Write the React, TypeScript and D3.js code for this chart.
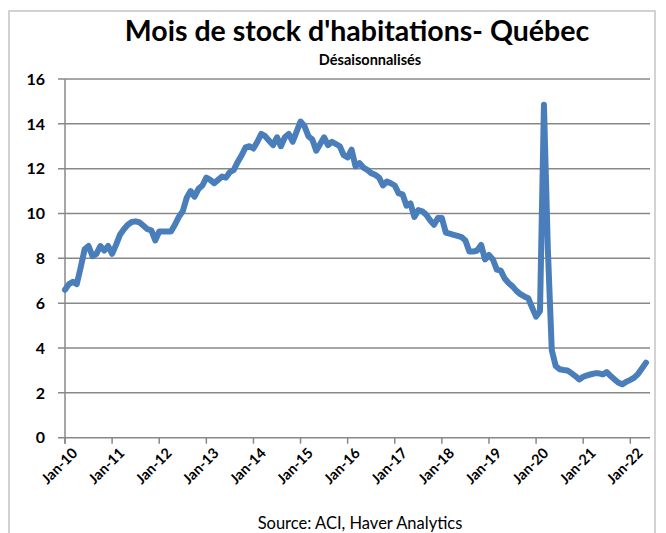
import React from 'react';
import * as d3 from 'd3';

// Mois de stock, Québec, désaisonnalisés (mensuel, jan. 2010 - mai 2022)
const y2010 = [6.6, 6.85, 6.95, 6.85, 7.6, 8.4, 8.55, 8.1, 8.2, 8.55, 8.35, 8.55];
const y2011 = [8.2, 8.6, 9.05, 9.3, 9.5, 9.62, 9.65, 9.6, 9.45, 9.3, 9.25, 8.8];
const y2012 = [9.2, 9.2, 9.2, 9.2, 9.5, 9.85, 10.1, 10.7, 11.0, 10.75, 11.1, 11.25];
const y2013 = [11.6, 11.5, 11.35, 11.5, 11.65, 11.6, 11.85, 11.95, 12.3, 12.6, 12.95, 13.0];
const y2014 = [12.9, 13.2, 13.55, 13.45, 13.25, 13.05, 13.4, 13.0, 13.4, 13.55, 13.2, 13.65];
const y2015 = [14.1, 13.9, 13.45, 13.3, 12.8, 13.1, 13.4, 13.05, 13.2, 13.1, 13.0, 12.6];
const y2016 = [12.5, 12.85, 12.1, 12.25, 12.05, 11.95, 11.8, 11.73, 11.6, 11.25, 11.43, 11.35];
const y2017 = [11.25, 10.9, 10.85, 10.35, 10.45, 9.85, 10.15, 10.1, 9.95, 9.7, 9.5, 9.8];
const y2018 = [9.8, 9.15, 9.1, 9.05, 9.0, 8.95, 8.8, 8.3, 8.3, 8.35, 8.6, 7.95];
const y2019 = [8.15, 7.95, 7.5, 7.45, 7.1, 6.9, 6.75, 6.55, 6.4, 6.3, 6.22, 5.8];
const y2020 = [5.4, 5.65, 14.85, 8.4, 3.9, 3.2, 3.05, 3.02, 3.0, 2.88, 2.75, 2.6];
const y2021 = [2.72, 2.78, 2.83, 2.87, 2.87, 2.82, 2.93, 2.75, 2.6, 2.45, 2.38, 2.5];
const y2022 = [2.58, 2.68, 2.85, 3.1, 3.35];

const values = [
  ...y2010, ...y2011, ...y2012, ...y2013, ...y2014, ...y2015, ...y2016,
  ...y2017, ...y2018, ...y2019, ...y2020, ...y2021, ...y2022,
];

const xTickLabels = ['Jan-10', 'Jan-11', 'Jan-12', 'Jan-13', 'Jan-14', 'Jan-15', 'Jan-16',
  'Jan-17', 'Jan-18', 'Jan-19', 'Jan-20', 'Jan-21', 'Jan-22'];
const yTicks = [0, 2, 4, 6, 8, 10, 12, 14, 16];

const FONT = 'Lato, "Open Sans", sans-serif';

const App = () => {
  const width = 666,
    height = 533;
  const left = 65,
    right = 650,
    top = 79,
    bottom = 437.7;

  // une unité = un mois ; Jan-22 tombe à 630
  const x = d3.scaleLinear().domain([0, 144]).range([left, 630.3]);
  const y = d3.scaleLinear().domain([0, 16]).range([bottom, top]);

  const line = d3.line<number>()
    .x((d, i) => x(i))
    .y(d => y(d));

  return (
    <svg width={width} height={height} style={{ position: 'absolute', left: 0, top: 0 }}>
      <rect x={0} y={0} width={width} height={height} fill="#fff" />
      <rect x={9} y={11} width={646} height={540} fill="none" stroke="#c4c4c4" strokeWidth={1.5} />

      <text x={357} y={41} textAnchor="middle" fontFamily={FONT} fontWeight="bold" fontSize={28.5} fill="#000">
        Mois de stock d'habitations- Québec
      </text>
      <text x={370} y={65} textAnchor="middle" fontFamily={FONT} fontWeight="bold" fontSize={14.5} fill="#000">
        Désaisonnalisés
      </text>

      {/* grille et étiquettes Y */}
      {yTicks.map(t => (
        <g key={t}>
          <line x1={58} x2={right} y1={y(t)} y2={y(t)} stroke="#888" strokeWidth={1.5} />
          <text x={45} y={y(t)} dy="0.36em" textAnchor="end" fontFamily={FONT} fontWeight="bold" fontSize={16} fill="#000">
            {t}
          </text>
        </g>
      ))}
      <line x1={left} x2={left} y1={top} y2={bottom + 6} stroke="#888" strokeWidth={1.5} />

      {/* axe X */}
      {xTickLabels.map((lab, i) => {
        const px = x(i * 12);
        return (
          <g key={lab}>
            <line x1={px} x2={px} y1={bottom} y2={bottom + 6} stroke="#888" strokeWidth={1.5} />
            <text
              transform={`translate(${px + 6},${bottom + 9}) rotate(-45)`}
              textAnchor="end"
              dy="0.72em"
              fontFamily={FONT}
              fontWeight="bold"
              fontSize={14.5}
              fill="#000"
            >
              {lab}
            </text>
          </g>
        );
      })}

      <path d={line(values) || ''} fill="none" stroke="#4a7ebb" strokeWidth={6}
        strokeLinejoin="round" strokeLinecap="round" />

      <text x={360} y={529} textAnchor="middle" fontFamily={FONT} fontSize={16.5} fill="#000">
        Source: ACI, Haver Analytics
      </text>
    </svg>
  );
};

export default App;
